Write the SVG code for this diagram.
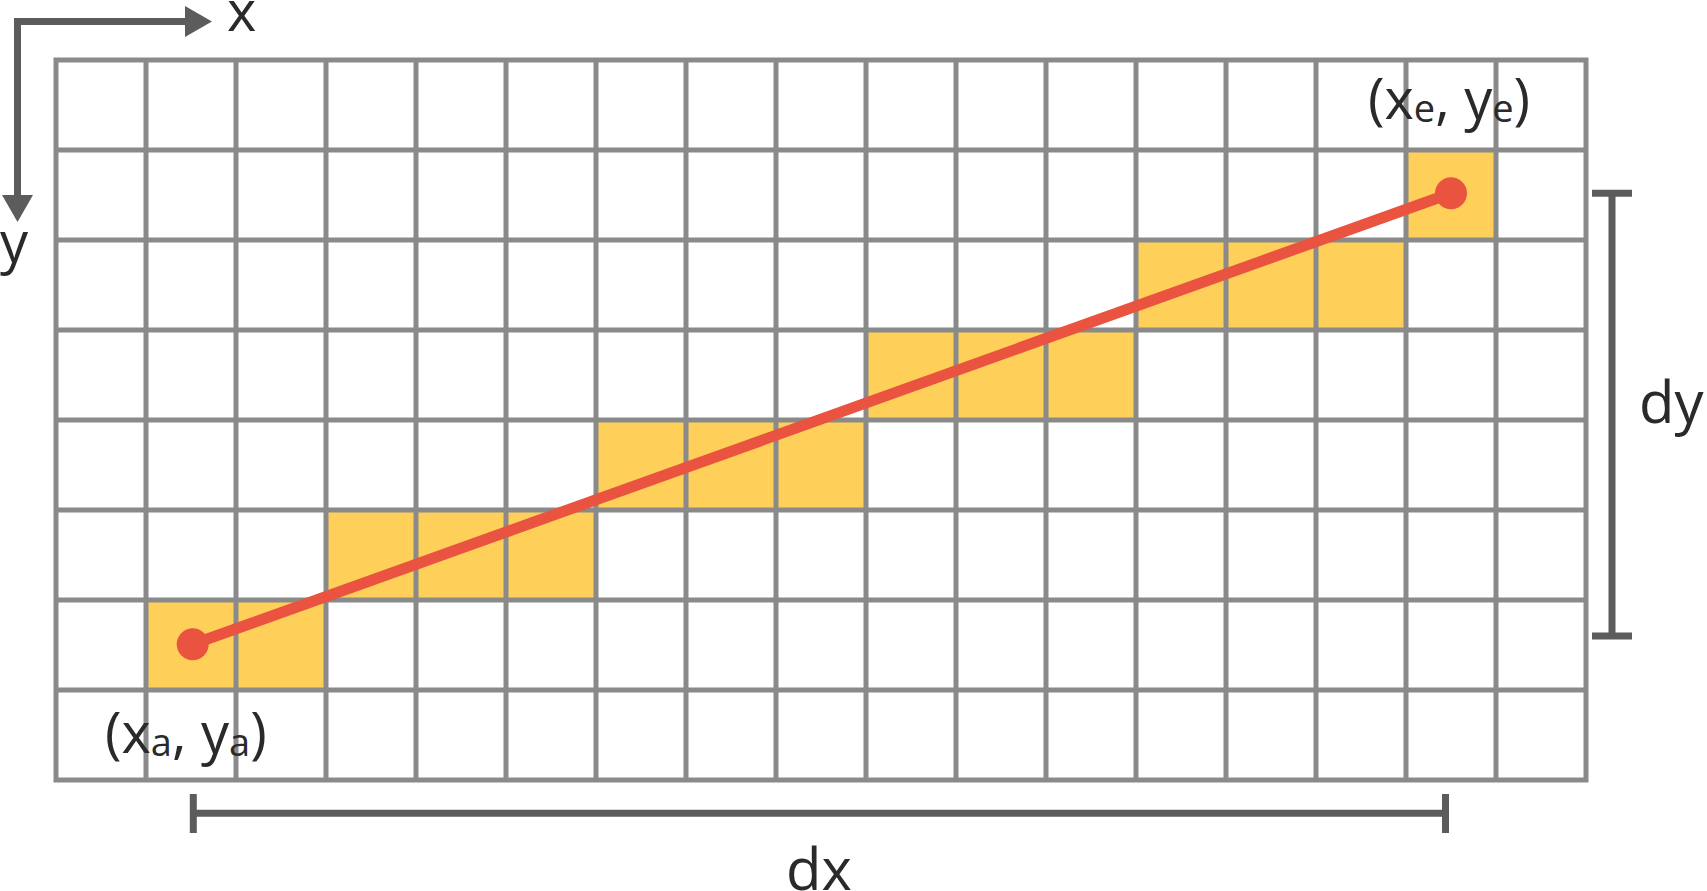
<svg xmlns="http://www.w3.org/2000/svg" width="1707" height="891" viewBox="0 0 1707 891">
<style>
.cell{fill:#FED05A}
.grid{stroke:#8A8A8A;stroke-width:5;fill:none}
.dim{stroke:#5C5C5C;stroke-width:7;fill:none}
.axis{stroke:#5C5C5C;stroke-width:7;fill:none}
.head{fill:#5C5C5C}
.lbl{font-family:"Open Sans","Noto Sans",sans-serif;fill:#2A2A2A;font-size:56px}
.big{font-family:"Open Sans","Noto Sans",sans-serif;fill:#2A2A2A;font-size:58px}
.sub{font-size:38px}
</style>
<rect width="1707" height="891" fill="#FFFFFF"/>
<g id="axes">
<path class="axis" d="M17.5,196 V21.5 H186"/>
<polygon class="head" points="185,6 212,21.5 185,37"/>
<polygon class="head" points="2,195 33,195 17.5,222"/>
<text class="lbl" x="227" y="31">x</text>
<text class="lbl" x="0" y="262">y</text>
</g>
<g id="cells">
<rect class="cell" x="146" y="600" width="180" height="90"/>
<rect class="cell" x="326" y="510" width="270" height="90"/>
<rect class="cell" x="596" y="420" width="270" height="90"/>
<rect class="cell" x="866" y="330" width="270" height="90"/>
<rect class="cell" x="1136" y="240" width="270" height="90"/>
<rect class="cell" x="1406" y="150" width="90" height="90"/>
</g>
<g id="grid">
<path class="grid" d="M146,60V780M236,60V780M326,60V780M416,60V780M506,60V780M596,60V780M686,60V780M776,60V780M866,60V780M956,60V780M1046,60V780M1136,60V780M1226,60V780M1316,60V780M1406,60V780M1496,60V780M56,150H1586M56,240H1586M56,330H1586M56,420H1586M56,510H1586M56,600H1586M56,690H1586"/>
<rect class="grid" x="56" y="60" width="1530" height="720"/>
</g>
<g id="connectors">
<line x1="192.7" y1="644.3" x2="1451" y2="193.3" stroke="#E9533F" stroke-width="11"/>
<circle cx="192.7" cy="644.3" r="16" fill="#E9533F"/>
<circle cx="1451" cy="193.3" r="16" fill="#E9533F"/>
</g>
<g id="labels">
<text class="lbl" x="1368" y="119">(x<tspan class="sub" dy="3">e</tspan><tspan dy="-3">, y</tspan><tspan class="sub" dy="3">e</tspan><tspan dy="-3">)</tspan></text>
<text class="lbl" x="105" y="753">(x<tspan class="sub" dy="3">a</tspan><tspan dy="-3">, y</tspan><tspan class="sub" dy="3">a</tspan><tspan dy="-3">)</tspan></text>
</g>
<g id="dx">
<path class="dim" d="M193.3,813.3 H1445.5 M193.3,794 V833 M1445.5,794 V833"/>
<text class="big" x="786" y="890">dx</text>
</g>
<g id="dy">
<path class="dim" d="M1612,193.3 V636 M1592,193.3 H1632 M1592,636 H1632"/>
<text class="big" x="1639" y="423">dy</text>
</g>
</svg>
